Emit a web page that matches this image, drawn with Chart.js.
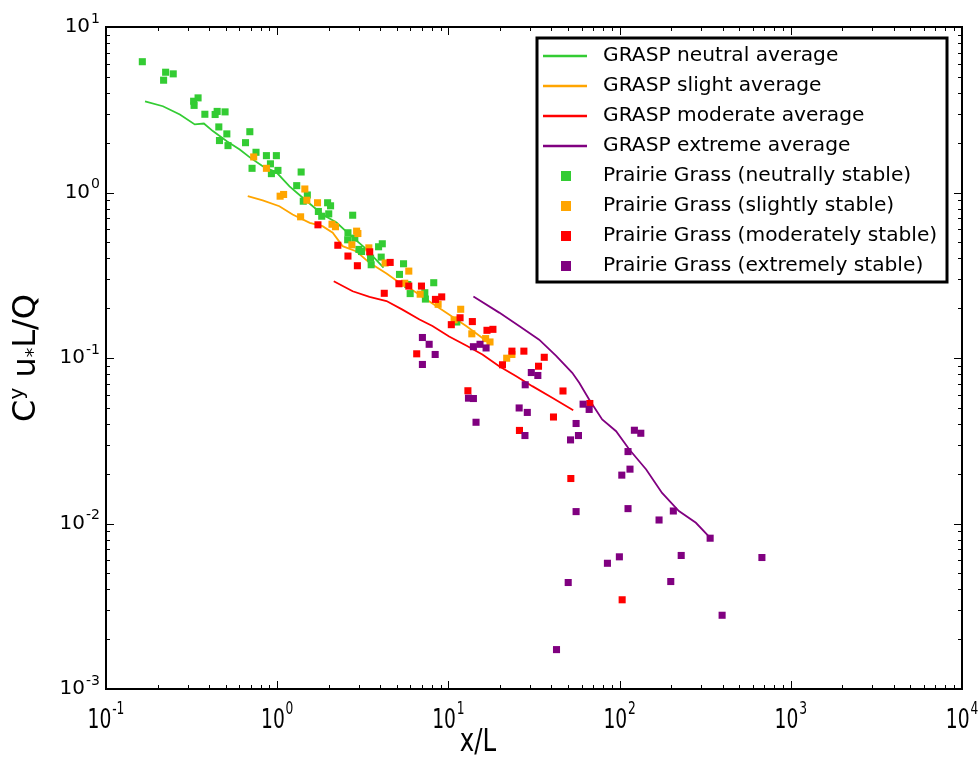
<!DOCTYPE html>
<html>
<head>
<meta charset="utf-8">
<script src="https://cdn.jsdelivr.net/npm/chart.js@4.4.1/dist/chart.umd.min.js"></script>
<style>
  html, body { margin: 0; padding: 0; background: #fff; }
  #wrap { width: 979px; height: 763px; }
</style>
</head>
<body>
<div id="wrap"><canvas id="chart"></canvas></div>
<script>
// Ejes (decadas) y etiquetas de ticks
const xMajor = [0.1, 1, 10, 100, 1000, 10000];
const xTickExp = ['-1', '0', '1', '2', '3', '4'];
const yMajor = [0.001, 0.01, 0.1, 1, 10];
const yTickExp = ['-3', '-2', '-1', '0', '1'];

// Curvas GRASP
const greenLineX = [0.169, 0.215, 0.270, 0.330, 0.373, 0.421, 0.508, 0.604, 0.692, 0.823, 0.993, 1.18, 1.41, 1.84, 2.22, 2.65, 3.24, 4.18];
const greenLineY = [3.55, 3.32, 2.96, 2.58, 2.61, 2.35, 2.04, 1.82, 1.63, 1.44, 1.32, 1.09, 0.929, 0.736, 0.659, 0.557, 0.465, 0.352];
const orangeLineX = [0.673, 0.823, 1.03, 1.23, 1.55, 1.84, 2.11, 2.41, 2.91, 3.46, 4.35, 5.18, 5.69, 7.44, 9.73, 12.7, 15.8, 17.6];
const orangeLineY = [0.950, 0.895, 0.826, 0.736, 0.656, 0.626, 0.571, 0.474, 0.440, 0.376, 0.324, 0.285, 0.272, 0.226, 0.188, 0.156, 0.132, 0.121];
const redLineX = [2.14, 2.76, 3.46, 4.35, 5.39, 6.78, 8.07, 10.1, 12.7, 15.8, 19.8, 24.9, 30.9, 40.4, 53.6];
const redLineY = [0.291, 0.253, 0.234, 0.221, 0.196, 0.171, 0.156, 0.135, 0.119, 0.105, 0.0892, 0.0776, 0.0676, 0.0575, 0.0484];
const purpleLineX = [14.0, 19.8, 25.9, 33.9, 42.6, 52.9, 58.1, 66.4, 79.1, 95.4, 114, 143, 177, 222, 279, 346];
const purpleLineY = [0.235, 0.188, 0.156, 0.129, 0.103, 0.0814, 0.0708, 0.0562, 0.0425, 0.0361, 0.0280, 0.0212, 0.0153, 0.0119, 0.0101, 0.0080];

// Datos Prairie Grass
const greenX = [0.163, 0.223, 0.247, 0.217, 0.345, 0.325, 0.327, 0.378, 0.446, 0.434, 0.496, 0.456, 0.508, 0.460, 0.516, 0.692, 0.653, 0.752, 0.865, 0.989, 0.913, 0.713, 1.01, 0.925, 1.38, 1.30, 1.50, 1.42, 1.97, 2.05, 1.74, 1.82, 2.00, 2.76, 2.59, 2.58, 2.84, 3.00, 3.11, 3.51, 3.91, 4.11, 4.05, 3.54, 5.47, 5.18, 5.79, 8.21, 7.28, 5.98, 7.34, 11.2];
const greenY = [6.17, 5.33, 5.21, 4.77, 3.73, 3.56, 3.36, 2.97, 3.09, 2.96, 3.07, 2.49, 2.26, 2.06, 1.92, 2.33, 2.00, 1.75, 1.67, 1.67, 1.49, 1.40, 1.36, 1.30, 1.33, 1.10, 0.966, 0.886, 0.867, 0.831, 0.768, 0.719, 0.743, 0.729, 0.571, 0.518, 0.530, 0.453, 0.440, 0.401, 0.470, 0.490, 0.407, 0.366, 0.371, 0.320, 0.278, 0.285, 0.248, 0.245, 0.227, 0.165];
const orangeX = [0.729, 0.865, 1.04, 1.09, 1.45, 1.49, 1.72, 1.37, 2.09, 2.19, 2.91, 2.96, 2.73, 3.43, 4.27, 5.87, 5.56, 6.84, 8.71, 11.8, 10.8, 13.7, 16.5, 17.5, 21.9, 23.5];
const orangeY = [1.64, 1.40, 0.950, 0.973, 1.05, 0.898, 0.867, 0.713, 0.643, 0.621, 0.584, 0.565, 0.483, 0.463, 0.375, 0.335, 0.283, 0.243, 0.211, 0.197, 0.170, 0.140, 0.131, 0.125, 0.0997, 0.105];
const redX = [1.73, 2.26, 2.59, 2.94, 3.47, 4.57, 5.14, 5.87, 6.96, 4.22, 8.40, 9.14, 11.7, 10.4, 13.8, 16.8, 18.2, 6.53, 23.5, 27.6, 36.3, 33.6, 20.7, 13.0, 46.7, 41.1, 26.0, 67.0, 51.9, 103.5];
const redY = [0.638, 0.480, 0.413, 0.361, 0.438, 0.378, 0.281, 0.272, 0.272, 0.246, 0.226, 0.234, 0.175, 0.159, 0.166, 0.147, 0.149, 0.106, 0.110, 0.110, 0.101, 0.0892, 0.0910, 0.0634, 0.0632, 0.0440, 0.0365, 0.0531, 0.0187, 0.00346];
const purpleX = [7.05, 7.72, 8.37, 7.05, 14.0, 15.3, 16.6, 30.5, 33.3, 28.1, 13.1, 14.0, 14.5, 25.9, 28.9, 28.0, 61.2, 66.4, 55.7, 57.5, 51.7, 122, 133, 112, 115, 103, 55.7, 112, 206, 170, 338, 229, 99.7, 84.9, 678, 50.1, 199, 397, 42.8];
const purpleY = [0.133, 0.121, 0.105, 0.0914, 0.117, 0.121, 0.115, 0.0817, 0.0784, 0.0689, 0.0572, 0.0569, 0.0409, 0.0499, 0.0469, 0.0340, 0.0526, 0.0489, 0.0402, 0.0340, 0.0320, 0.0366, 0.0351, 0.0272, 0.0213, 0.0196, 0.0118, 0.0123, 0.0119, 0.0105, 0.00815, 0.00641, 0.00629, 0.00575, 0.00623, 0.00440, 0.00446, 0.00279, 0.00173];

const legendLabels = [
    'GRASP neutral average', 'GRASP slight average', 'GRASP moderate average', 'GRASP extreme average',
    'Prairie Grass (neutrally stable)', 'Prairie Grass (slightly stable)',
    'Prairie Grass (moderately stable)', 'Prairie Grass (extremely stable)'
];

const colores = {
    green: '#33cc33',
    orange: '#ffa500',
    red: '#ff0000',
    purple: '#800080'
};

function puntos(xs, ys) {
    return xs.map((v, i) => ({ x: v, y: ys[i] }));
}

function linea(label, xs, ys, color, order) {
    return {
        label, data: puntos(xs, ys), showLine: true, borderColor: color,
        borderWidth: 1.8, pointRadius: 0, fill: false, tension: 0, order
    };
}

function nube(label, xs, ys, color, order) {
    return {
        label, data: puntos(xs, ys), showLine: false, pointStyle: 'rect',
        pointRadius: 5, pointBorderWidth: 0, backgroundColor: color,
        borderColor: color, order
    };
}

// texto con exponente: "10" + superindice
function drawPow(ctx, base, sup, x, y, align, fBase, fSup, raise, sx) {
    ctx.save();
    ctx.translate(x, y);
    ctx.scale(sx, 1);
    ctx.font = fBase;
    const wb = ctx.measureText(base).width;
    ctx.font = fSup;
    const ws = ctx.measureText(sup).width;
    const total = wb + ws + 1;
    let x0 = align === 'right' ? -total : -total / 2;
    ctx.textBaseline = 'middle';
    ctx.textAlign = 'left';
    ctx.fillStyle = '#000';
    ctx.font = fBase;
    ctx.fillText(base, x0, 0);
    ctx.font = fSup;
    ctx.fillText(sup, x0 + wb + 1, -raise);
    ctx.restore();
}

const decoracion = {
    id: 'decoracion',
    afterDatasetsDraw(chart) {
        const { ctx, chartArea: a, scales: { x, y } } = chart;
        ctx.save();
        ctx.strokeStyle = '#000';
        ctx.lineWidth = 1;

        // ticks interiores (estilo matplotlib)
        const tick = (px, len, vertical) => {
            ctx.beginPath();
            if (vertical) {
                ctx.moveTo(px, a.bottom); ctx.lineTo(px, a.bottom - len);
                ctx.moveTo(px, a.top); ctx.lineTo(px, a.top + len);
            } else {
                ctx.moveTo(a.left, px); ctx.lineTo(a.left + len, px);
                ctx.moveTo(a.right, px); ctx.lineTo(a.right - len, px);
            }
            ctx.stroke();
        };
        xMajor.forEach((v, i) => {
            tick(Math.round(x.getPixelForValue(v)) + 0.5, 8, true);
            if (i < xMajor.length - 1) {
                for (let m = 2; m <= 9; m++) tick(Math.round(x.getPixelForValue(v * m)) + 0.5, 4, true);
            }
        });
        yMajor.forEach((v, i) => {
            tick(Math.round(y.getPixelForValue(v)) + 0.5, 8, false);
            if (i < yMajor.length - 1) {
                for (let m = 2; m <= 9; m++) tick(Math.round(y.getPixelForValue(v * m)) + 0.5, 4, false);
            }
        });

        // marco
        ctx.lineWidth = 2;
        ctx.strokeRect(a.left, a.top, a.right - a.left, a.bottom - a.top);

        // etiquetas de ticks
        xMajor.forEach((v, i) => {
            drawPow(ctx, '10', xTickExp[i], x.getPixelForValue(v), a.bottom + 32, 'center',
                '26px "DejaVu Sans Condensed", "DejaVu Sans"', '17px "DejaVu Sans Condensed", "DejaVu Sans"', 11, 0.8);
        });
        yMajor.forEach((v, i) => {
            drawPow(ctx, '10', yTickExp[i], a.left - 6, y.getPixelForValue(v), 'right',
                '20px "DejaVu Sans"', '14px "DejaVu Sans"', 8, 1);
        });

        // titulos de ejes
        ctx.fillStyle = '#000';
        ctx.save();
        ctx.translate(478, 743);
        ctx.scale(0.85, 1);
        ctx.font = '32px "DejaVu Sans Condensed", "DejaVu Sans"';
        ctx.textAlign = 'center';
        ctx.textBaseline = 'middle';
        ctx.fillText('x/L', 0, 0);
        ctx.restore();

        ctx.save();
        ctx.translate(27, (a.top + a.bottom) / 2);
        ctx.rotate(-Math.PI / 2);
        const partes = [
            { t: 'C', f: '32px "DejaVu Sans"', dy: 0 },
            { t: 'y', f: '20px "DejaVu Sans"', dy: -9 },
            { t: ' u', f: '32px "DejaVu Sans"', dy: 0 },
            { t: '*', f: '19px "DejaVu Sans"', dy: 7 },
            { t: 'L/Q', f: '32px "DejaVu Sans"', dy: 0 }
        ];
        let ancho = 0;
        partes.forEach(p => { ctx.font = p.f; p.w = ctx.measureText(p.t).width; ancho += p.w; });
        let cx = -ancho / 2;
        ctx.textAlign = 'left';
        ctx.textBaseline = 'middle';
        partes.forEach(p => { ctx.font = p.f; ctx.fillText(p.t, cx, p.dy); cx += p.w; });
        ctx.restore();

        // leyenda
        const lx = 537, ly = 38, lw = 410, lh = 244;
        ctx.fillStyle = '#fff';
        ctx.fillRect(lx, ly, lw, lh);
        ctx.lineWidth = 3;
        ctx.strokeStyle = '#000';
        ctx.strokeRect(lx, ly, lw, lh);
        const lineColors = [colores.green, colores.orange, colores.red, colores.purple];
        legendLabels.forEach((txt, i) => {
            const ry = 56 + 30 * i;
            const c = lineColors[i % 4];
            if (i < 4) {
                ctx.strokeStyle = c;
                ctx.lineWidth = 2.5;
                ctx.beginPath();
                ctx.moveTo(543, ry); ctx.lineTo(587, ry);
                ctx.stroke();
            } else {
                ctx.fillStyle = c;
                ctx.fillRect(561, ry - 5, 10, 10);
            }
            ctx.fillStyle = '#000';
            ctx.font = '20.2px "DejaVu Sans"';
            ctx.textAlign = 'left';
            ctx.textBaseline = 'middle';
            ctx.fillText(txt, 603, ry);
        });
        ctx.restore();
    }
};

new Chart(document.getElementById('chart'), {
    type: 'scatter',
    data: {
        datasets: [
            linea(legendLabels[0], greenLineX, greenLineY, colores.green, 13),
            linea(legendLabels[1], orangeLineX, orangeLineY, colores.orange, 12),
            linea(legendLabels[2], redLineX, redLineY, colores.red, 11),
            linea(legendLabels[3], purpleLineX, purpleLineY, colores.purple, 10),
            nube(legendLabels[4], greenX, greenY, colores.green, 4),
            nube(legendLabels[5], orangeX, orangeY, colores.orange, 3),
            nube(legendLabels[6], redX, redY, colores.red, 2),
            nube(legendLabels[7], purpleX, purpleY, colores.purple, 1)
        ]
    },
    options: {
        responsive: true,
        maintainAspectRatio: false,
        animation: false,
        layout: { padding: { left: 106, right: 17, top: 27, bottom: 74 } },
        plugins: { legend: { display: false }, tooltip: { enabled: false } },
        scales: {
            x: { type: 'logarithmic', min: 0.1, max: 10000, display: false },
            y: { type: 'logarithmic', min: 0.001, max: 10, display: false }
        }
    },
    plugins: [decoracion]
});
</script>
</body>
</html>
